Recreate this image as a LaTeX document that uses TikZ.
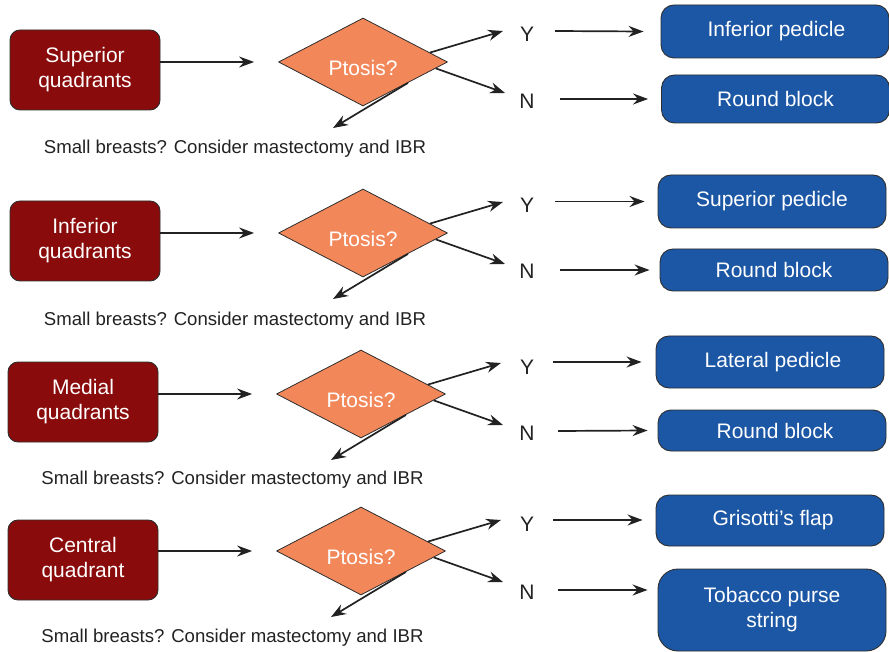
\documentclass[tikz,border=0pt]{standalone}
\usepackage{fontspec}
\setmainfont{Liberation Sans}
\usetikzlibrary{shapes.geometric,arrows.meta,calc}
\definecolor{quadred}{HTML}{8A0B0B}
\definecolor{ptosis}{HTML}{F2875A}
\definecolor{flapblue}{HTML}{1C57A5}
\definecolor{edge}{HTML}{2E2E2E}
\definecolor{ink}{HTML}{222222}
\begin{document}
\begin{tikzpicture}[x=1pt,y=-1pt,
  redbox/.style={draw=edge,line width=0.9pt,fill=quadred,rounded corners=10pt,
    minimum width=150pt,minimum height=80pt,align=center,text=white,
    font=\fontsize{21}{25}\selectfont},
  bluebox/.style={draw=edge,line width=0.9pt,fill=flapblue,rounded corners=13pt,
    minimum width=228pt,align=center,text=white,inner sep=0pt,
    font=\fontsize{21}{25}\selectfont},
  decision/.style={diamond,draw=edge,line width=0.8pt,fill=ptosis,
    minimum width=169pt,minimum height=88pt,inner sep=0pt},
  ptext/.style={text=white,font=\fontsize{21}{25}\selectfont,yshift=-6pt},
  yn/.style={text=ink,font=\fontsize{21}{25}\selectfont,inner sep=0pt},
  note/.style={text=ink,font=\fontsize{18.6}{22}\selectfont,inner sep=0pt},
  arr/.style={draw=ink,line width=1.7pt,-{Stealth[length=15pt,width=11pt,inset=5pt]}}
]
\useasboundingbox (0,0) rectangle (889,652);

% ---------- superior quadrants ----------
\node[redbox] (r1) at (85,70) {Superior\\quadrants};
\node[decision,label={[ptext]center:Ptosis?}] (d1) at (363,62) {};
\node[yn] (y1) at (527,34) {Y};
\node[yn] (n1) at (527,101) {N};
\node[bluebox,minimum height=53pt] (a1) at (775,31.5) {\hspace*{3pt}Inferior pedicle};
\node[bluebox,minimum height=48pt] (b1) at (775.5,99) {Round block};
\node[note] (s1) at (235,149) {Small breasts? Consider mastectomy and IBR};
\coordinate (y1t) at (503,31);
\coordinate (n1t) at (505,93);
\coordinate (s1t) at (333,128);
\draw[arr] (r1.east |- d1.center) -- ([xshift=-24pt]d1.west);
\draw[arr] (d1.8) -- (y1t);
\draw[arr] (d1.-5) -- (n1t);
\draw[arr] (d1.-25) -- (s1t);
\draw[arr] (555,31) coordinate (y1s) -- ([xshift=-17pt]a1.west);
\draw[arr] (560,99) coordinate (n1s) -- ([xshift=-13pt]b1.west);

% ---------- inferior quadrants ----------
\node[redbox] (r2) at (85,241) {Inferior\\quadrants};
\node[decision,label={[ptext]center:Ptosis?}] (d2) at (363,233) {};
\node[yn] (y2) at (527,205) {Y};
\node[yn] (n2) at (527,271) {N};
\node[bluebox,minimum height=53pt] (a2) at (772,201.5) {Superior pedicle};
\node[bluebox,minimum height=42pt] (b2) at (774,270) {Round block};
\node[note] (s2) at (235,321) {Small breasts? Consider mastectomy and IBR};
\coordinate (y2t) at (503,202);
\coordinate (n2t) at (505,264);
\coordinate (s2t) at (333,299);
\draw[arr] (r2.east |- d2.center) -- ([xshift=-24pt]d2.west);
\draw[arr] (d2.8) -- (y2t);
\draw[arr] (d2.-5) -- (n2t);
\draw[arr] (d2.-25) -- (s2t);
\draw[arr] (555,201.5) -- ([xshift=-13pt]a2.west);
\draw[arr] (560,270) -- ([xshift=-10pt]b2.west);

% ---------- medial quadrants ----------
\node[redbox] (r3) at (83,402) {Medial\\quadrants};
\node[decision,label={[ptext]center:Ptosis?}] (d3) at (361,394) {};
\node[yn] (y3) at (527,367) {Y};
\node[yn] (n3) at (527,433) {N};
\node[bluebox,minimum height=52pt] (a3) at (770,362) {\hspace*{6pt}Lateral pedicle};
\node[bluebox,minimum height=41pt] (b3) at (772,430.5) {\hspace*{6pt}Round block};
\node[note] (s3) at (232.5,480) {Small breasts? Consider mastectomy and IBR};
\coordinate (y3t) at (501,363);
\coordinate (n3t) at (503,425);
\coordinate (s3t) at (331,460);
\draw[arr] (r3.east |- d3.center) -- ([xshift=-24pt]d3.west);
\draw[arr] (d3.8) -- (y3t);
\draw[arr] (d3.-5) -- (n3t);
\draw[arr] (d3.-25) -- (s3t);
\draw[arr] (553,362) -- ([xshift=-14pt]a3.west);
\draw[arr] (558,431) -- ([xshift=-10pt]b3.west);

% ---------- central quadrant ----------
\node[redbox] (r4) at (83,560) {Central\\quadrant};
\node[decision,label={[ptext]center:Ptosis?}] (d4) at (361,551) {};
\node[yn] (y4) at (527,524) {Y};
\node[yn] (n4) at (527,592) {N};
\node[bluebox,minimum height=51pt] (a4) at (770,520.5) {\hspace*{6pt}Grisotti’s flap};
\node[bluebox,minimum height=82pt,rounded corners=20pt] (b4) at (772,610) {Tobacco purse\\string};
\node[note] (s4) at (232.5,638) {Small breasts? Consider mastectomy and IBR};
\coordinate (y4t) at (501,520);
\coordinate (n4t) at (503,582);
\coordinate (s4t) at (331,617);
\draw[arr] (r4.east |- d4.center) -- ([xshift=-24pt]d4.west);
\draw[arr] (d4.8) -- (y4t);
\draw[arr] (d4.-5) -- (n4t);
\draw[arr] (d4.-25) -- (s4t);
\draw[arr] (553,520) -- ([xshift=-13pt]a4.west |- 0,520);
\draw[arr] (558,590) -- ([xshift=-10pt]b4.west |- 0,590);
\end{tikzpicture}
\end{document}
